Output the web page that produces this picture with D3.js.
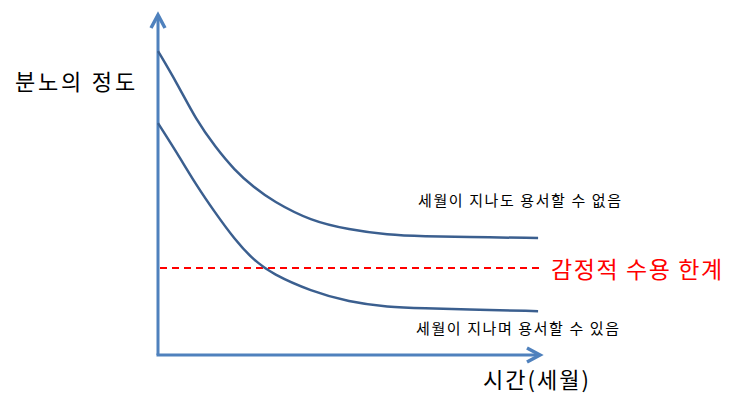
<!DOCTYPE html>
<html>
<head>
<meta charset="utf-8">
<script src="https://cdn.jsdelivr.net/npm/d3@7"></script>
<style>
  body { margin: 0; background: #fff; }
  svg text { font-family: "Noto Sans CJK KR", "Noto Sans", sans-serif; }
</style>
</head>
<body>
<div id="chart"></div>
<script>
const width = 743;
const height = 409;

// time (x) and anger level (y), both in 0..100 units
const times = [0, 5, 10, 15, 20, 25, 30, 40, 50, 60, 70, 80, 99.5];
const unforgiven = [89.4, 79.9, 69.1, 61.2, 54.4, 49.4, 45.3, 39.4, 36.9, 35.3, 34.9, 34.7, 34.4];
const forgiven = [68.2, 59.4, 50.0, 41.8, 34.1, 27.9, 23.8, 18.8, 15.6, 14.1, 13.7, 13.4, 12.9];
const limitLevel = 25.6;

const yTitle = "분노의 정도";
const xTitle = "시간(세월)";
const unforgivenLabel = "세월이 지나도 용서할 수 없음";
const forgivenLabel = "세월이 지나며 용서할 수 있음";
const limitLabel = "감정적 수용 한계";

const x = d3.scaleLinear().domain([0, 100]).range([158, 540]);
const y = d3.scaleLinear().domain([0, 100]).range([355, 15]);

const svg = d3.select("#chart")
  .append("svg")
  .attr("width", width)
  .attr("height", height);

const axisColor = "#4f81bd";
const lineColor = "#3b5f8f";

// axes with arrow heads
svg.append("line")
  .attr("x1", x(0)).attr("y1", y(0))
  .attr("x2", x(0)).attr("y2", y(100) + 1)
  .attr("stroke", axisColor).attr("stroke-width", 3);
svg.append("path")
  .attr("d", "M" + (x(0) - 7) + "," + (y(100) + 13) + "L" + x(0) + "," + y(100) + "L" + (x(0) + 7) + "," + (y(100) + 13))
  .attr("fill", "none").attr("stroke", axisColor).attr("stroke-width", 3.5);

svg.append("line")
  .attr("x1", x(0) - 1.5).attr("y1", y(0))
  .attr("x2", x(100) - 1).attr("y2", y(0))
  .attr("stroke", axisColor).attr("stroke-width", 3);
svg.append("path")
  .attr("d", "M" + (x(100) - 13) + "," + (y(0) - 7) + "L" + x(100) + "," + y(0) + "L" + (x(100) - 13) + "," + (y(0) + 7))
  .attr("fill", "none").attr("stroke", axisColor).attr("stroke-width", 3.5);

// emotional limit
svg.append("line")
  .attr("x1", x(0) + 2).attr("y1", y(limitLevel))
  .attr("x2", x(100)).attr("y2", y(limitLevel))
  .attr("stroke", "#ff0000").attr("stroke-width", 2)
  .attr("stroke-dasharray", "7,5");

const line = d3.line()
  .x(function(d, i) { return x(times[i]); })
  .y(function(d) { return y(d); })
  .curve(d3.curveBasis);

[unforgiven, forgiven].forEach(function(series) {
  svg.append("path")
    .attr("d", line(series))
    .attr("fill", "none")
    .attr("stroke", lineColor)
    .attr("stroke-width", 2.5);
});

// labels
svg.append("text")
  .attr("x", 15).attr("y", 90)
  .attr("font-size", 22)
  .attr("letter-spacing", 2.8)
  .attr("fill", "#000")
  .text(yTitle);

svg.append("text")
  .attr("x", 483).attr("y", 388)
  .attr("font-size", 22)
  .attr("letter-spacing", 2)
  .attr("fill", "#000")
  .text(xTitle);

svg.append("text")
  .attr("x", 418).attr("y", 206)
  .attr("font-size", 15)
  .attr("letter-spacing", 1.6)
  .attr("fill", "#000")
  .text(unforgivenLabel);

svg.append("text")
  .attr("x", 416).attr("y", 334)
  .attr("font-size", 15)
  .attr("letter-spacing", 1.6)
  .attr("fill", "#000")
  .text(forgivenLabel);

svg.append("text")
  .attr("x", 551).attr("y", 278)
  .attr("font-size", 23)
  .attr("letter-spacing", 1.6)
  .attr("fill", "#ff0000")
  .text(limitLabel);
</script>
</body>
</html>
